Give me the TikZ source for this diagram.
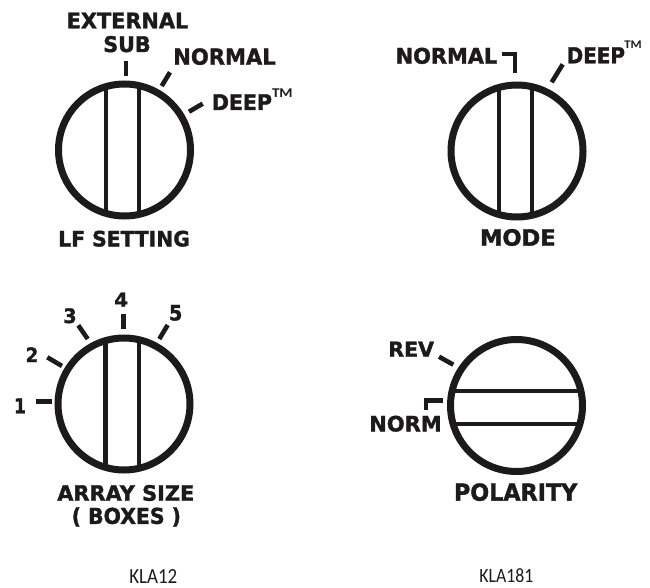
\documentclass[tikz,border=0pt]{standalone}
\usepackage{fontspec}
\usepackage{graphicx}
\setmainfont{DejaVu Sans}[BoldFont={DejaVu Sans Bold},BoldFeatures={FakeBold=1.6}]
\newfontfamily\capfont{Carlito}
\definecolor{ink}{HTML}{1C1A1B}
\tikzset{
  dial/.style={draw=ink,line width=7pt},
  dialbar/.style={draw=ink,line width=4.2pt},
  dialtick/.style={draw=ink,line width=4.6pt},
  lbl/.style={inner sep=0pt,outer sep=0pt,text=ink,font=\bfseries},
  captxt/.style={inner sep=0pt,outer sep=0pt,text=ink,font=\capfont}
}
\newcommand{\lab}[7][lbl]{%
  \pgfmathsetlengthmacro{\labw}{(#5-#3)*1pt}%
  \pgfmathsetlengthmacro{\labh}{(#6-#4)*1pt}%
  \node[#1] (#2) at ({(#3+#5)/2},{(#4+#6)/2}) {\resizebox*{\labw}{\labh}{#7}};}
\begin{document}
\begin{tikzpicture}[x=1pt,y=-1pt]
\useasboundingbox (0,0) rectangle (650,588);
% dials
\draw[dial] (124.5,150) circle[radius=66];
\draw[dialbar] (106.2,87) -- (106.2,213);
\draw[dialbar] (139,87) -- (139,213);
\draw[dial] (517,151) circle[radius=66];
\draw[dialbar] (499,88) -- (499,214);
\draw[dialbar] (532,88) -- (532,214);
\draw[dial] (124,404) circle[radius=66];
\draw[dialbar] (105.5,341) -- (105.5,467);
\draw[dialbar] (138.7,341) -- (138.7,467);
\draw[dial] (516.5,405.5) circle[radius=66];
\draw[dialbar] (453,390.7) -- (580,390.7);
\draw[dialbar] (453,423.7) -- (580,423.7);
% ticks
\draw[dialtick] (126,60.7) -- (126,76.3);
\draw[dialtick] (161.7,86) -- (170,72.3);
\draw[dialtick] (189,111.7) -- (202.7,103.7);
\draw[dialtick] (501.7,54) -- (515,54) -- (515,73.3);
\draw[dialtick] (551.7,82.3) -- (562.7,64.3);
\draw[dialtick] (35.7,401.3) -- (51.7,401.3);
\draw[dialtick] (47.3,357.3) -- (62,366);
\draw[dialtick] (78.3,325.3) -- (87.7,339);
\draw[dialtick] (123.3,313.7) -- (123.3,329);
\draw[dialtick] (167.7,325) -- (159.3,339);
\draw[dialtick] (439,356.7) -- (453.3,364.7);
\draw[dialtick] (443.3,400.3) -- (426,400.3) -- (426,410);
% labels
\lab{ext}{66.7}{12.7}{188.3}{28.3}{EXTERNAL}
\lab{sub}{103.3}{36}{150.7}{52.3}{SUB}
\lab{norma}{173.3}{48.3}{275.7}{65}{NORMAL}
\lab{deepa}{212}{94.3}{272}{110}{DEEP}
\lab[captxt]{tma}{272}{89.3}{292.7}{98}{\bfseries TM}
\lab{lf}{58.3}{230.7}{190}{246.7}{LF SETTING}
\lab{normb}{395.7}{47.7}{497.3}{64}{NORMAL}
\lab{deepb}{566.7}{47.3}{625}{63.3}{DEEP}
\lab[captxt]{tmb}{624.3}{40.7}{641.7}{48.3}{\bfseries TM}
\lab{mode}{480}{229}{555.7}{246}{MODE}
\lab{one}{14}{398.3}{26}{413.3}{1}
\lab{two}{25.7}{347.3}{38.3}{362}{2}
\lab{three}{63.3}{308.3}{76.7}{323.3}{3}
\lab{four}{114.3}{292.7}{128}{306.7}{4}
\lab{five}{169}{305}{182.3}{320.7}{5}
\lab{array}{57.3}{485}{194.3}{501}{ARRAY SIZE}
\lab{boxes}{71.7}{507.3}{181}{526.7}{( BOXES )}
\lab{rev}{388.3}{341.7}{434}{356.7}{REV}
\lab{norm}{369.3}{415.7}{441.7}{431.7}{NORM}
\lab{pol}{454}{483.3}{577.3}{501}{POLARITY}
\lab[captxt]{kla}{129.3}{569}{177.3}{583}{KLA12}
\lab[captxt]{klb}{479.3}{569}{533.3}{583}{KLA181}
\end{tikzpicture}
\end{document}
